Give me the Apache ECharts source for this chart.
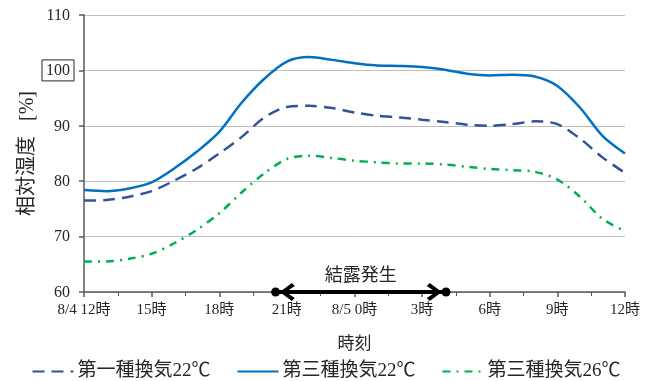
<!DOCTYPE html>
<html>
<head>
<meta charset="utf-8">
<script src="https://cdn.jsdelivr.net/npm/echarts@6/dist/echarts.min.js"></script>
<style>html,body{margin:0;padding:0;background:#fff}#c{width:652px;height:381px}</style>
</head>
<body>
<div id="c"></div>
<script>
// hours after 8/4 12:00
const hours = [0,1,2,3,4,5,6,7,8,9,10,11,12,13,14,15,16,17,18,19,20,21,22,23,24];
const type1_22 = [76.5,76.6,77.2,78.2,80.1,82.3,85.0,88.0,91.5,93.4,93.6,93.2,92.4,91.8,91.5,91.1,90.7,90.2,90.0,90.3,90.8,90.3,87.7,84.3,81.5];
const type3_22 = [78.4,78.2,78.7,79.8,82.3,85.3,88.9,94.2,98.5,101.6,102.4,101.9,101.3,100.9,100.8,100.6,100.1,99.4,99.1,99.2,98.9,97.2,93.3,88.2,85.0];
const type3_26 = [65.5,65.5,66.0,66.9,68.8,71.2,74.2,78.0,81.4,84.0,84.6,84.2,83.7,83.4,83.2,83.2,83.0,82.6,82.2,82.0,81.7,80.3,77.2,73.2,71.0];
const seriesNames = ['第一種換気22℃','第三種換気22℃','第三種換気26℃'];
const xTickLabels = ['8/4 12時','15時','18時','21時','8/5 0時','3時','6時','9時','12時'];
const condensation = [8.5, 16.06]; // start, end (hours)
const condensationLabel = '結露発生';

const pair = arr => hours.map((h,i)=>[h,arr[i]]);
const FONT = "'Liberation Serif','Times New Roman','Noto Sans CJK JP',serif";
const JFONT = "'Noto Sans CJK JP','Liberation Serif',sans-serif";
const chevron = 'path://M9,0 L18,12 L15,15 L9,6 L3,15 L0,12 Z';
const arrowInset = 0.52; // hours from dot to arrowhead centre
const chart = echarts.init(document.getElementById('c'));
chart.setOption({
  animation:false,
  grid:{left:84,right:27,top:15,bottom:89},
  legend:{
    data:seriesNames, left:'center', top:357, itemWidth:41, itemHeight:14, itemGap:26,
    itemStyle:{opacity:0},
    textStyle:{fontFamily:FONT,fontSize:19,color:'#262626',padding:[0,0,0,-1]}
  },
  xAxis:{
    type:'value',min:0,max:24,interval:3,
    name:'時刻',nameLocation:'middle',nameGap:42,nameMoveOverlap:false,
    nameTextStyle:{fontFamily:JFONT,fontSize:17,color:'#262626'},
    axisLine:{lineStyle:{color:'#595959',width:1.5}},
    axisTick:{length:5,lineStyle:{color:'#595959',width:1.5}},
    minorTick:{show:true,splitNumber:2,length:4,lineStyle:{color:'#595959',width:1}},
    splitLine:{show:false},
    axisLabel:{margin:11,fontFamily:FONT,fontSize:15,color:'#262626',
      formatter:v=>xTickLabels[Math.round(v/3)]}
  },
  yAxis:{
    type:'value',min:60,max:110,interval:10,
    name:'相対湿度 \u2002[%]',nameLocation:'middle',nameGap:46,nameRotate:90,nameMoveOverlap:false,
    nameTextStyle:{fontFamily:FONT,fontSize:20,color:'#262626'},
    axisLine:{show:true,lineStyle:{color:'#595959',width:1.5}},
    axisTick:{show:true,length:5,lineStyle:{color:'#595959',width:1.5}},
    splitLine:{lineStyle:{color:'#bfbfbf',width:1}},
    axisLabel:{margin:10,fontFamily:FONT,fontSize:16,color:'#262626',
      formatter:v=> v===100 ? '{b|'+v+'}' : '{a|'+v+'}',
      rich:{
        a:{fontFamily:FONT,fontSize:16,color:'#262626',padding:[3,4,2,4]},
        b:{fontFamily:FONT,fontSize:16,color:'#262626',padding:[3,4,2,4],borderColor:'#262626',borderWidth:1}
      }}
  },
  series:[
    {name:seriesNames[0],type:'line',smooth:0.3,symbol:'none',data:pair(type1_22),
     lineStyle:{color:'#2F5597',width:2.5,type:[12,7]},itemStyle:{color:'#2F5597'}},
    {name:seriesNames[1],type:'line',smooth:0.3,symbol:'none',data:pair(type3_22),
     lineStyle:{color:'#0070C0',width:2.5},itemStyle:{color:'#0070C0'}},
    {name:seriesNames[2],type:'line',smooth:0.3,symbol:'none',data:pair(type3_26),
     lineStyle:{color:'#00B050',width:2.5,type:[8,6,2,6]},itemStyle:{color:'#00B050'}},
    {name:'annot',type:'line',clip:false,z:5,symbol:'circle',symbolSize:9,
     data:condensation.map(h=>[h,60]),
     lineStyle:{color:'#000',width:4},itemStyle:{color:'#000'},
     markLine:{
       silent:true,symbol:[chevron,chevron],
       symbolSize:[18,15],
       lineStyle:{color:'#000',width:4,type:'solid'},
       label:{show:true,position:'middle',distance:9,formatter:condensationLabel,
         fontFamily:JFONT,fontSize:18,color:'#262626'},
       data:[[{coord:[condensation[0]+arrowInset,60]},{coord:[condensation[1]-arrowInset,60]}]]
     }}
  ]
});
</script>
</body>
</html>
